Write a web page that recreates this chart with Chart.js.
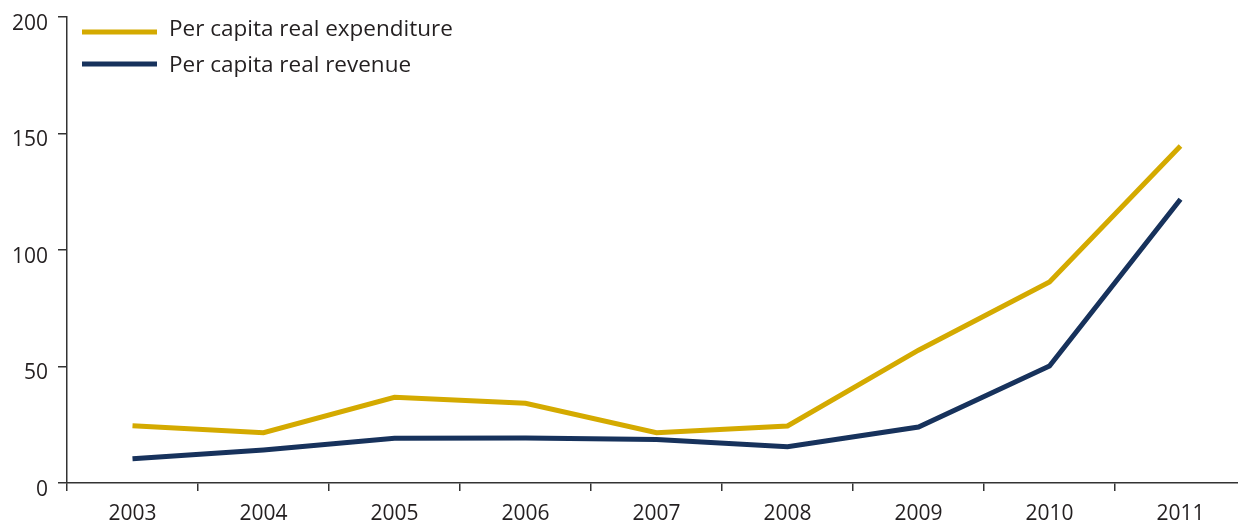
<!DOCTYPE html>
<html>
<head>
  <meta charset="UTF-8">
  <title>Per capita real expenditure and revenue</title>
  <script src="https://cdn.jsdelivr.net/npm/chart.js"></script>
  <style>
    body { margin: 0; background: #fff; overflow: hidden; }
    .chart-container { position: relative; width: 1250px; height: 522px; }
  </style>
</head>
<body>
  <div class="chart-container">
    <canvas id="spendChart"></canvas>
  </div>

<script>
var years = ['2003', '2004', '2005', '2006', '2007', '2008', '2009', '2010', '2011'];
var expenditure = [24.6, 21.6, 36.8, 34.2, 21.6, 24.5, 57, 86.3, 144.6];
var revenue = [10.4, 14.2, 19.2, 19.3, 18.7, 15.6, 24, 50.2, 121.8];
var yTicks = [0, 50, 100, 150, 200];

var textColor = '#231f20';
var axisColor = '#333333';
var fontFamily = '"Open Sans", "Noto Sans", sans-serif';

// legend drawn inside the plot, top-left, like the original
var insideLegend = {
  id: 'insideLegend',
  afterDraw: function (chart) {
    var ctx = chart.ctx;
    var x0 = 82, x1 = 157, textX = 169;
    var rows = [32, 64];
    var textRows = [30, 66];
    ctx.save();
    chart.data.datasets.forEach(function (ds, i) {
      ctx.strokeStyle = ds.borderColor;
      ctx.lineWidth = 5;
      ctx.beginPath();
      ctx.moveTo(x0, rows[i]);
      ctx.lineTo(x1, rows[i]);
      ctx.stroke();
      ctx.fillStyle = textColor;
      ctx.font = '22.5px ' + fontFamily;
      ctx.textBaseline = 'middle';
      ctx.fillText(ds.label, textX, textRows[i]);
    });
    ctx.restore();
  }
};

var ctx = document.getElementById('spendChart').getContext('2d');
var spendChart = new Chart(ctx, {
  type: 'line',
  data: {
    labels: years,
    datasets: [{
      label: 'Per capita real expenditure',
      data: expenditure,
      borderColor: '#d4aa00',
      borderWidth: 5,
      pointRadius: 0,
      tension: 0,
      fill: false
    }, {
      label: 'Per capita real revenue',
      data: revenue,
      borderColor: '#17325c',
      borderWidth: 5,
      pointRadius: 0,
      tension: 0,
      fill: false
    }]
  },
  options: {
    responsive: true,
    maintainAspectRatio: false,
    animation: false,
    layout: { padding: { top: 17, right: 4, left: 0, bottom: 0 } },
    plugins: {
      legend: { display: false },
      tooltip: { enabled: false }
    },
    scales: {
      x: {
        offset: true,
        grid: {
          offset: true,
          drawOnChartArea: false,
          drawTicks: true,
          tickLength: 8,
          color: axisColor,
          lineWidth: 1.5
        },
        border: { color: axisColor, width: 1.5 },
        ticks: {
          color: textColor,
          font: { family: fontFamily, size: 21 },
          padding: 10,
          maxRotation: 0
        },
        afterFit: function (scale) {
          scale.height = 39;
          scale.paddingLeft = 0;
          scale.paddingRight = 0;
        }
      },
      y: {
        min: 0,
        max: 200,
        afterBuildTicks: function (scale) {
          scale.ticks = yTicks.map(function (v) { return { value: v }; });
        },
        grid: {
          drawOnChartArea: false,
          drawTicks: true,
          tickLength: 9,
          color: axisColor,
          lineWidth: 1.5
        },
        border: { color: axisColor, width: 1.5 },
        ticks: {
          color: textColor,
          font: { family: fontFamily, size: 21 },
          padding: 10,
          labelOffset: 7
        },
        afterFit: function (scale) {
          scale.width = 67;
          scale.paddingTop = 0;
          scale.paddingBottom = 0;
        }
      }
    }
  },
  plugins: [insideLegend]
});
</script>
</body>
</html>
